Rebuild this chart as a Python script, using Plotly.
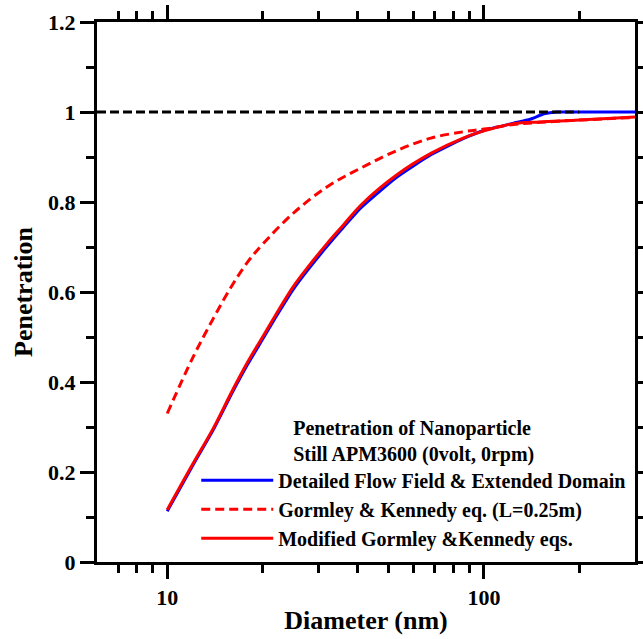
import numpy as np
import plotly.graph_objects as go

# Diameter (nm) and penetration
d_mod = [10, 12, 14, 16, 18, 20, 22, 25, 28, 32, 36, 41, 53, 68, 86, 100, 124, 150, 200, 300]
p_mod = [0.116, 0.216, 0.298, 0.379, 0.446, 0.500, 0.549, 0.612, 0.658, 0.708, 0.749, 0.794,
         0.860, 0.908, 0.942, 0.958, 0.974, 0.978, 0.982, 0.989]

d_det = [10, 12, 14, 16, 18, 20, 22, 25, 28, 32, 36, 41, 53, 68, 86, 100, 124, 140, 155, 170, 200, 300]
p_det = [0.113, 0.213, 0.295, 0.375, 0.441, 0.495, 0.544, 0.606, 0.652, 0.702, 0.744, 0.788,
         0.855, 0.905, 0.941, 0.959, 0.975, 0.984, 0.996, 1.0, 1.0, 1.0]

d_gk = [10, 12, 14, 16, 18, 20, 25, 32, 41, 53, 68, 86, 100, 124, 150, 200, 300]
p_gk = [0.330, 0.452, 0.542, 0.614, 0.668, 0.706, 0.775, 0.834, 0.876, 0.914, 0.942, 0.956,
        0.962, 0.972, 0.977, 0.982, 0.988]

d_ref = [6, 200]
p_ref = [1.0, 1.0]

x_major = [10, 100]
x_major_text = ["10", "100"]
x_minor = [7, 8, 9, 20, 30, 40, 50, 60, 70, 80, 90, 200]

y_major = [0, 0.2, 0.4, 0.6, 0.8, 1, 1.2]
y_major_text = ["0", "0.2", "0.4", "0.6", "0.8", "1", "1.2"]
y_minor = [0.1, 0.3, 0.5, 0.7, 0.9, 1.1]

FONT = "Liberation Serif"

fig = go.Figure()
fig.add_trace(go.Scatter(x=d_det, y=p_det, mode="lines", name="Detailed Flow Field & Extended Domain",
                         line=dict(color="#0000ff", width=3, shape="spline", smoothing=0.5)))
fig.add_trace(go.Scatter(x=d_gk, y=p_gk, mode="lines", name="Gormley & Kennedy eq. (L=0.25m)",
                         line=dict(color="#ff0000", width=3, dash="9px,5px", shape="spline", smoothing=1.0)))
fig.add_trace(go.Scatter(x=d_mod, y=p_mod, mode="lines", name="Modified Gormley &Kennedy eqs.",
                         line=dict(color="#ff0000", width=3, shape="spline", smoothing=1.0)))
fig.add_trace(go.Scatter(x=d_ref, y=p_ref, mode="lines", showlegend=False,
                         line=dict(color="black", width=3, dash="9px,4px")))

fig.update_layout(
    width=643, height=639,
    margin=dict(l=97, r=8, t=22, b=77),
    paper_bgcolor="white", plot_bgcolor="white",
    font=dict(family=FONT, color="black", size=20, weight="bold"),
    showlegend=True,
    legend=dict(
        x=0.993, xanchor="right", y=0.008, yanchor="bottom",
        bgcolor="rgba(0,0,0,0)",
        font=dict(family=FONT, size=20, weight="bold"),
        title=dict(text="Penetration of Nanoparticle<br>Still APM3600 (0volt, 0rpm)",
                   side="top center", font=dict(family=FONT, size=20, weight="bold")),
        itemwidth=72, tracegroupgap=0,
    ),
    xaxis=dict(
        type="log", range=[np.log10(6), np.log10(300)], automargin=False,
        showline=True, linecolor="black", linewidth=3, mirror="ticks",
        showgrid=False, zeroline=False,
        tickmode="array", tickvals=x_major, ticktext=x_major_text,
        ticks="outside", ticklen=14, tickwidth=2.5, tickcolor="black",
        tickfont=dict(family=FONT, size=22, weight="bold"),
        minor=dict(tickmode="array", tickvals=x_minor, ticks="outside", ticklen=8,
                   tickwidth=2.5, tickcolor="black", showgrid=False),
        title=dict(text="Diameter (nm)", font=dict(family=FONT, size=26, weight="bold"), standoff=2),
    ),
    yaxis=dict(
        range=[0, 1.2], automargin=False,
        showline=True, linecolor="black", linewidth=3, mirror="ticks",
        showgrid=False, zeroline=False,
        tickmode="array", tickvals=y_major, ticktext=y_major_text,
        ticks="outside", ticklen=14, tickwidth=2.5, tickcolor="black",
        tickfont=dict(family=FONT, size=22, weight="bold"),
        minor=dict(tickmode="array", tickvals=y_minor, ticks="outside",
                   ticklen=8, tickwidth=2.5, tickcolor="black", showgrid=False),
        title=dict(text="Penetration", font=dict(family=FONT, size=26, weight="bold"), standoff=8),
    ),
)

fig.write_html("out.html")
